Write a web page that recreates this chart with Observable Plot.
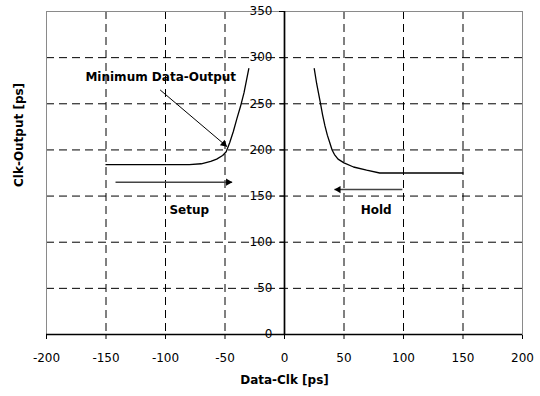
<!DOCTYPE html>
<html><head><meta charset="utf-8">
<script src="https://cdn.jsdelivr.net/npm/d3@7"></script>
<script src="https://cdn.jsdelivr.net/npm/@observablehq/plot@0.6"></script>
<style>body{margin:0;background:#fff;} svg{display:block;}</style>
</head><body><div id="chart"></div>
<script>
// ---- data ----
const xTicks = [-200, -150, -100, -50, 0, 50, 100, 150, 200];
const yTicks = [0, 50, 100, 150, 200, 250, 300, 350];
const setupX = [-150, -80, -70, -62, -57, -52, -49, -46, -43, -40, -37, -34, -32, -30];
const setupY = [184, 184, 185, 187.5, 190, 194, 198, 208, 220, 234, 247, 262, 275, 288];
const holdX = [25, 27, 30, 32, 34, 36, 38, 40, 42, 45, 50, 58, 69, 80, 150];
const holdY = [288, 272, 252, 238, 226, 216, 208, 200, 195, 190, 186, 181.5, 178, 175, 175];
const labelText = ["Minimum Data-Output", "Setup", "Hold"];
const labelX = [-104, -80, 77];
const labelY = [278.6, 135, 135];
const arrowX1 = [-104.5, -142, 99];
const arrowY1 = [265, 165, 157];
const arrowX2 = [-48.4, -44, 42];
const arrowY2 = [203.7, 165, 157];
const arrowStroke = ["#000", "#444", "#444"];
const arrowWidth = [1, 1.5, 1.5];
const xTitle = "Data-Clk [ps]";
const yTitle = "Clk-Output [ps]";

// ---- layout ----
const W = 540, H = 396, mL = 46, mR = 18, mT = 11, mB = 62;
const sx = Plot.scale({x: {domain: [-200, 200], range: [mL, W - mR]}});
const sy = Plot.scale({y: {domain: [0, 350], range: [H - mB, mT]}});

const arrows = arrowX1.map((x1, i) => ({
  x1, y1: arrowY1[i], x2: arrowX2[i], y2: arrowY2[i],
  stroke: arrowStroke[i], sw: arrowWidth[i],
  angle: Math.atan2(sy.apply(arrowY2[i]) - sy.apply(arrowY1[i]), sx.apply(arrowX2[i]) - sx.apply(arrowX1[i]))
}));
const labels = labelText.map((t, i) => ({t, x: labelX[i], y: labelY[i]}));
const setup = d3.zip(setupX, setupY);
const hold = d3.zip(holdX, holdY);
const headBack = 4;

const plot = Plot.plot({
  width: W, height: H,
  marginLeft: mL, marginRight: mR, marginTop: mT, marginBottom: mB,
  style: {fontFamily: "'DejaVu Sans', sans-serif", fontSize: "12px", background: "#fff", color: "#000"},
  x: {domain: [-200, 200], ticks: xTicks, tickSize: 5, tickPadding: 14, label: null, tickFormat: d => String(d)},
  y: {domain: [0, 350], axis: null},
  marks: [
    Plot.ruleX(xTicks.filter(d => d !== 0 && Math.abs(d) !== 200), {x: d => d, stroke: "#000", strokeWidth: 1, strokeDasharray: "8,5"}),
    Plot.ruleY(yTicks.filter(d => d > 0 && d < 350), {y: d => d, stroke: "#000", strokeWidth: 1, strokeDasharray: "8,5"}),
    Plot.frame({stroke: "#8a8a8a"}),
    Plot.ruleX([0], {x: d => d, stroke: "#000", strokeWidth: 1.7}),
    Plot.ruleY([0], {y: d => d, stroke: "#000", strokeWidth: 1.7}),
    Plot.ruleY(yTicks, {y: d => d, x1: 0, x2: 0, insetLeft: -5, stroke: "#000", strokeWidth: 1}),
    Plot.text(yTicks, {x: 0, y: d => d, text: d => String(d), textAnchor: "end", dx: -12, fontSize: 12}),
    Plot.line(setup, {x: d => d[0], y: d => d[1], stroke: "#000", strokeWidth: 1.3}),
    Plot.line(hold, {x: d => d[0], y: d => d[1], stroke: "#000", strokeWidth: 1.3}),
    Plot.link(arrows, {x1: "x1", y1: "y1", x2: "x2", y2: "y2", stroke: d => d.stroke, strokeWidth: d => d.sw}),
    Plot.dot(arrows, {
      x: "x2", y: "y2", symbol: "triangle", r: 2.7, fill: "#000", stroke: null,
      rotate: d => 90 + d.angle * 180 / Math.PI,
      render: (index, scales, values, dims, context, next) => {
        const g = next(index, scales, values, dims, context);
        d3.select(g).selectAll("path").attr("transform", function(_, j) {
          const i = index[j];
          const a = arrows[i].angle;
          const px = values.x[i] - headBack * Math.cos(a);
          const py = values.y[i] - headBack * Math.sin(a);
          return `translate(${px},${py}) rotate(${90 + a * 180 / Math.PI})`;
        });
        return g;
      }
    }),
    Plot.text(labels, {x: "x", y: "y", text: "t", fontWeight: "bold", fontSize: 12}),
    Plot.text([xTitle], {frameAnchor: "bottom", text: d => d, dy: 49, fontWeight: "bold", fontSize: 12}),
    Plot.text([yTitle], {frameAnchor: "left", text: d => d, rotate: -90, dx: -27, dy: 14, fontWeight: "bold", fontSize: 12})
  ]
});
document.getElementById("chart").appendChild(plot);
</script>
</body></html>
